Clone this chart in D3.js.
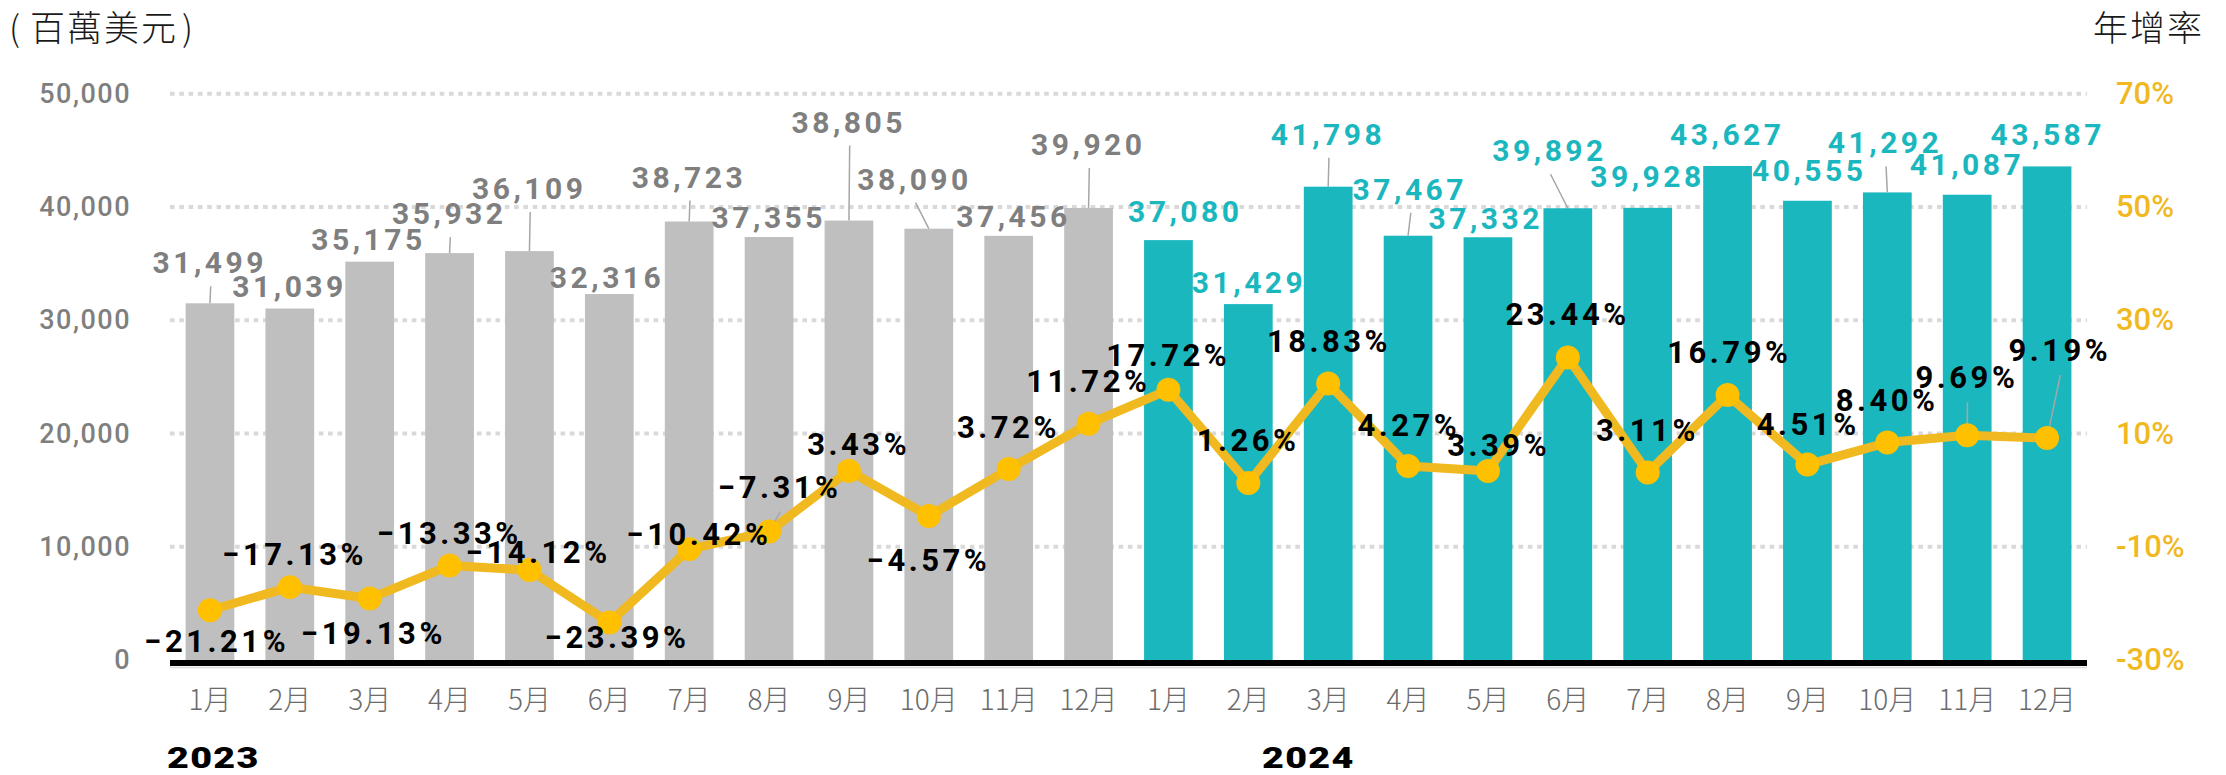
<!DOCTYPE html>
<html>
<head>
<meta charset="utf-8">
<script src="https://cdnjs.cloudflare.com/ajax/libs/d3/7.8.5/d3.min.js"></script>
<style>
  html, body { margin: 0; padding: 0; background: #fff; }
  svg text { font-family: Roboto, "Noto Sans", sans-serif; }
  .cjk { font-family: "Noto Sans CJK TC", "Noto Sans CJK SC", sans-serif; }
</style>
</head>
<body>
<div id="chart"></div>
<script>
// ---- data ----
const years = ['2023', '2024']
const months = ['1月','2月','3月','4月','5月','6月','7月','8月','9月','10月','11月','12月']
const exports2023 = [31499, 31039, 35175, 35932, 36109, 32316, 38723, 37355, 38805, 38090, 37456, 39920]
const exports2024 = [37080, 31429, 41798, 37467, 37332, 39892, 39928, 43627, 40555, 41292, 41087, 43587]
const growth2023 = [-21.21, -17.13, -19.13, -13.33, -14.12, -23.39, -10.42, -7.31, 3.43, -4.57, 3.72, 11.72]
const growth2024 = [17.72, 1.26, 18.83, 4.27, 3.39, 23.44, 3.11, 16.79, 4.51, 8.40, 9.69, 9.19]
const leftTicks = [0, 10000, 20000, 30000, 40000, 50000]
const rightTicks = [-30, -10, 10, 30, 50, 70]

// label nudges (px, relative to bar top / line point) so labels don't collide
const valueNudge = [[-2,-30],[-2,-12],[-3,-12],[-2,-29],[-2,-52],[-4,-6],[-2,-34],[-2,-9],[-2,-88],[-16,-39],[3,-9],[-2,-53],
                    [15,-18],[-1,-11],[-2,-42],[0,-36],[-4,-8],[-20,-47],[-2,-21],[-2,-21],[0,-20],[-4,-39],[-2,-20],[-1,-21]]
const growthNudge = [[5,42],[3,-22],[2,46],[-2,-22],[7,-7],[6,25],[8,-4],[9,-34],[8,-16],[-2,55],[-2,-31],[-2,-32],
                     [-2,-24],[-2,-32],[-1,-32],[-1,-30],[9,-15],[-2,-32],[-2,-32],[0,-32],[-1,-30],[-2,-32],[-2,-47],[11,-77]]

const W = 2226, H = 775
const GRAY = '#bfbfbf', TEAL = '#1bb7be', GOLD = '#f0b91f', MARK = '#ffc000'
const LS = 3.5

const rows = []
years.forEach((y, yi) => {
  const vals = yi == 0 ? exports2023 : exports2024
  const gr = yi == 0 ? growth2023 : growth2024
  months.forEach((m, mi) => {
    rows.push({ key: y + '-' + mi, year: y, yi, month: m, value: vals[mi], growth: gr[mi] })
  })
})
rows.forEach((d, i) => { d.vn = valueNudge[i]; d.gn = growthNudge[i] })

const svg = d3.select('#chart').append('svg')
  .attr('width', W).attr('height', H)

const x = d3.scaleBand()
  .domain(rows.map(d => d.key))
  .range([170, 2087])
  .paddingInner(0.39)
  .paddingOuter(0.195)

const yL = d3.scaleLinear().domain([0, 50000]).range([660, 93.8])
const yR = d3.scaleLinear().domain([-30, 70]).range([660, 93.8])
const cx = d => x(d.key) + x.bandwidth() / 2

// gridlines (dotted)
svg.append('g')
  .selectAll('line')
  .data(leftTicks.slice(1))
  .enter().append('line')
  .attr('x1', 170).attr('x2', 2087)
  .attr('y1', d => yL(d)).attr('y2', d => yL(d))
  .attr('stroke', '#d9d9d9')
  .attr('stroke-width', 4)
  .attr('stroke-dasharray', '4.6,4.7')

// left axis labels
svg.append('g')
  .selectAll('text')
  .data(leftTicks)
  .enter().append('text')
  .attr('x', 131)
  .attr('y', d => yL(d) + 2)
  .attr('text-anchor', 'end')
  .attr('dominant-baseline', 'middle')
  .attr('fill', '#7f7f7f')
  .style('font-size', '27px')
  .style('font-weight', 500)
  .style('letter-spacing', '1.5px')
  .text(d => d3.format(',')(d))

// right axis labels
svg.append('g')
  .selectAll('text')
  .data(rightTicks)
  .enter().append('text')
  .attr('x', 2116)
  .attr('y', d => yR(d) + 2)
  .attr('dominant-baseline', 'middle')
  .attr('fill', GOLD)
  .style('font-size', '31px')
  .style('font-weight', 500)
  .text(d => d + '%')

// bars
svg.append('g')
  .selectAll('rect')
  .data(rows)
  .enter().append('rect')
  .attr('x', d => x(d.key))
  .attr('width', x.bandwidth())
  .attr('y', d => yL(d.value))
  .attr('height', d => yL(0) - yL(d.value))
  .attr('fill', d => d.yi == 0 ? GRAY : TEAL)

// baseline
svg.append('line')
  .attr('x1', 170).attr('x2', 2087)
  .attr('y1', 667.5).attr('y2', 667.5)
  .attr('stroke', '#d9d9d9').attr('stroke-width', 1.5)
svg.append('line')
  .attr('x1', 170).attr('x2', 2087)
  .attr('y1', 663).attr('y2', 663)
  .attr('stroke', '#000').attr('stroke-width', 6)

// value labels + leaders
const vlx = d => cx(d) + d.vn[0] + LS / 2
const vly = d => yL(d.value) + d.vn[1]
const vLead = rows.filter(d => yL(d.value) - (vly(d) + 13) > 10)
svg.append('g')
  .selectAll('line')
  .data(vLead)
  .enter().append('line')
  .attr('x1', d => vlx(d) + 1).attr('y1', d => vly(d) + 13)
  .attr('x2', d => cx(d)).attr('y2', d => yL(d.value))
  .attr('stroke', '#a6a6a6').attr('stroke-width', 1.5)

svg.append('g')
  .selectAll('text')
  .data(rows)
  .enter().append('text')
  .attr('x', vlx)
  .attr('y', vly)
  .attr('text-anchor', 'middle')
  .attr('fill', d => d.yi == 0 ? '#7f7f7f' : TEAL)
  .style('font-size', '30px')
  .style('font-weight', 700)
  .style('letter-spacing', LS + 'px')
  .text(d => d3.format(',')(d.value))

// growth line
const line = d3.line().x(cx).y(d => yR(d.growth))
svg.append('path')
  .datum(rows)
  .attr('d', line)
  .attr('fill', 'none')
  .attr('stroke', GOLD)
  .attr('stroke-width', 9)
  .attr('stroke-linejoin', 'round')

// growth label leaders
const glx = d => cx(d) + d.gn[0] + LS / 2
const gly = d => yR(d.growth) + d.gn[1]
const gLead = rows.filter(d => d.gn[1] < -33)
svg.append('g')
  .selectAll('line')
  .data(gLead)
  .enter().append('line')
  .attr('x1', d => glx(d) + 0.5).attr('y1', d => gly(d) + 14)
  .attr('x2', d => cx(d)).attr('y2', d => yR(d.growth))
  .attr('stroke', '#a6a6a6').attr('stroke-width', 1.5)

svg.append('g')
  .selectAll('circle')
  .data(rows)
  .enter().append('circle')
  .attr('cx', cx)
  .attr('cy', d => yR(d.growth))
  .attr('r', 12)
  .attr('fill', MARK)

svg.append('g')
  .selectAll('text')
  .data(rows)
  .enter().append('text')
  .attr('x', glx)
  .attr('y', gly)
  .attr('text-anchor', 'middle')
  .attr('fill', '#000')
  .style('font-size', '31px')
  .style('font-weight', 700)
  .style('letter-spacing', LS + 'px')
  .text(d => d3.format('.2f')(d.growth) + '%')

// month labels
svg.append('g')
  .selectAll('text')
  .data(rows)
  .enter().append('text')
  .attr('class', 'cjk')
  .attr('x', cx)
  .attr('y', 710)
  .attr('text-anchor', 'middle')
  .attr('fill', '#6b6b6b')
  .style('font-size', '28px')
  .style('font-weight', 300)
  .text(d => d.month)

// year labels (wide heavy type, stretched horizontally)
svg.append('g')
  .selectAll('text')
  .data(years)
  .enter().append('text')
  .attr('transform', (d, i) => 'translate(' + (i == 0 ? 167 : 1262) + ',768) scale(1.3,1)')
  .attr('fill', '#000')
  .style('font-size', '29px')
  .style('font-weight', 900)
  .style('letter-spacing', '1px')
  .text(d => d)

// axis titles
const t1 = svg.append('text')
  .attr('class', 'cjk')
  .attr('x', 9).attr('y', 41)
  .attr('fill', '#1a1a1a')
  .style('font-size', '35px')
  .style('font-weight', 300)
t1.append('tspan').text('(')
t1.append('tspan').attr('dx', 10).style('letter-spacing', '2px').text('百萬美元')
t1.append('tspan').attr('dx', 4).text(')')

svg.append('text')
  .attr('class', 'cjk')
  .attr('x', 2204).attr('y', 41)
  .attr('text-anchor', 'end')
  .attr('fill', '#1a1a1a')
  .style('font-size', '35px')
  .style('font-weight', 300)
  .style('letter-spacing', '2px')
  .text('年增率')
</script>
</body>
</html>
